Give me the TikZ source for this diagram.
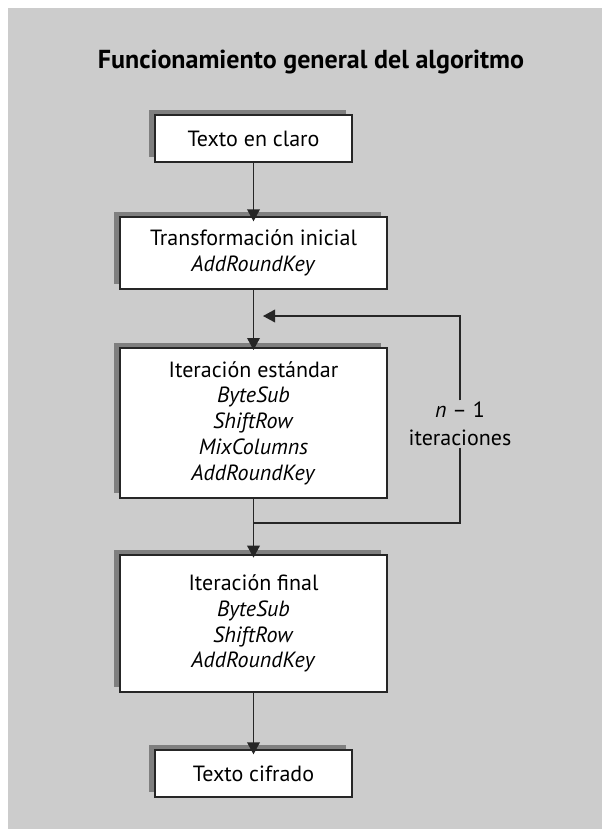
\documentclass[tikz,border=0pt]{standalone}
\usepackage{fontspec}
\setmainfont{PT Sans}
\usetikzlibrary{arrows.meta,shadows}
\definecolor{bggray}{HTML}{CCCCCC}
\definecolor{shadowgray}{HTML}{7F7F7F}
\begin{document}
\begin{tikzpicture}[x=0.75pt,y=-0.75pt,
  box/.style={draw=black!85,line width=1pt,fill=white,align=center,inner sep=0pt,
    font=\fontsize{16.5}{19.3}\selectfont,
    drop shadow={shadow xshift=-4.5pt,shadow yshift=3.75pt,opacity=1,fill=shadowgray}},
  conn/.style={line width=1pt,draw=black!85},
  arr/.style={conn,-{Triangle[length=9pt,width=9.5pt]}},
  lbl/.style={align=center,font=\fontsize{16.5}{21}\selectfont,inner sep=1pt}]
\useasboundingbox (0,0) rectangle (602,829);
\fill[white] (0,0) rectangle (602,829);
\fill[bggray] (8,8) rectangle (602,829);
\node[font=\bfseries\fontsize{19.5}{22}\selectfont] (title) at (311,62) {Funcionamiento general del algoritmo};
\node[box,minimum width=197*0.75pt,minimum height=47*0.75pt] (b1) at (253.5,138.5) {Texto en claro};
\node[box,minimum width=267*0.75pt,minimum height=72*0.75pt] (b2) at (253.5,253) {Transformación inicial\\\textit{AddRoundKey}};
\node[box,minimum width=267*0.75pt,minimum height=150*0.75pt] (b3) at (253.5,423) {Iteración estándar\\\textit{ByteSub}\\\textit{ShiftRow}\\\textit{MixColumns}\\\textit{AddRoundKey}};
\node[box,minimum width=267*0.75pt,minimum height=137*0.75pt] (b4) at (253.5,623.5) {Iteración final\\\textit{ByteSub}\\\textit{ShiftRow}\\\textit{AddRoundKey}};
\node[box,minimum width=197*0.75pt,minimum height=47*0.75pt] (b5) at (253.5,773.5) {Texto cifrado};
\node[lbl] (loop) at (460,424) {\textit{n} – 1\\iteraciones};
\coordinate (lt) at (460,316);
\coordinate (lin) at (263,316);
\coordinate (lb) at (460,523);
\coordinate (lout) at (254,523);
\draw[arr,shorten >=-3.75pt] (b1) -- (b2);
\draw[arr,shorten >=-2pt] (b2) -- (b3);
\draw[arr,shorten >=-2.5pt] (b3) -- (b4);
\draw[arr,shorten >=-3.75pt] (b4) -- (b5);
\draw[arr] (loop.north) -- (lt) -- (lin);
\draw[conn] (loop.south) -- (lb) -- (lout);
\end{tikzpicture}
\end{document}
